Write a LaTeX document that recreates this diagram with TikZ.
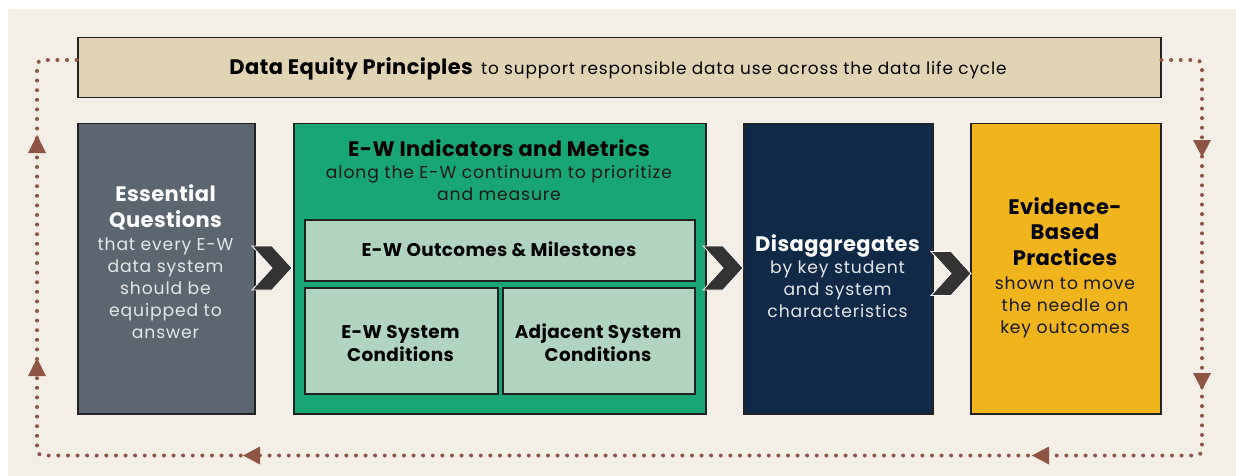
\documentclass[tikz,border=0pt]{standalone}
\usepackage{fontspec}
\setmainfont{Poppins}[LetterSpace=5, BoldFeatures={LetterSpace=2}]
\usetikzlibrary{calc}
\definecolor{cream}{HTML}{F3EFE6}
\definecolor{tan}{HTML}{E1D4B5}
\definecolor{dotc}{HTML}{8E5545}
\definecolor{slate}{HTML}{5C6670}
\definecolor{emer}{HTML}{18A674}
\definecolor{mint}{HTML}{B0D4BF}
\definecolor{navy}{HTML}{0F2947}
\definecolor{gold}{HTML}{F0B51D}
\definecolor{chevc}{HTML}{333333}
\definecolor{edge}{HTML}{222222}
\definecolor{lgray}{HTML}{E4E6E8}
\begin{document}
\begin{tikzpicture}[x=1pt,y=-1pt,
  box/.style={draw=edge, line width=1.5pt, inner sep=0pt, anchor=north west},
  tit/.style={font=\fontsize{21}{25.5}\selectfont\bfseries, align=center, inner sep=0pt, anchor=base},
  sub/.style={font=\fontsize{18.4}{23}\selectfont\bfseries, align=center, inner sep=0pt, anchor=base},
  bod/.style={font=\fontsize{17.2}{22}\selectfont, align=center, inner sep=0pt, anchor=base},
  dots/.style={draw=dotc, line width=4pt, line cap=round, dash pattern=on 0pt off 9.6pt},
  tri/.style={fill=dotc},
  chev/.pic={\filldraw[fill=chevc, draw=white, line width=0.8pt] (0,-22) -- (20,-22) -- (40,0) -- (20,22) -- (0,22) -- (20,0) -- cycle;}
]
\useasboundingbox (0,0) rectangle (1236,476);
\fill[white] (0,0) rectangle (1236,476);
\fill[cream] (8,9) rectangle (1236,476);

% dotted cycle
\node[box, fill=tan, minimum width=1083pt, minimum height=60pt] (dep) at (77,37) {};
\coordinate (dR) at ($(dep.north east)+(0,23)$);
\coordinate (dL) at ($(dep.north west)+(0,23)$);
\coordinate (cBR) at (1202,455.5);
\coordinate (cTL) at (37,60);
\draw[dots, rounded corners=6pt] (dR) -| (cBR) -| (cTL) -- (dL);
% arrowheads
\fill[tri] (1193,140) -- (1211,140) -- (1202,157) -- cycle;
\fill[tri] (1193,373) -- (1211,373) -- (1202,390) -- cycle;
\fill[tri] (28,153) -- (46,153) -- (37,135) -- cycle;
\fill[tri] (28,376) -- (46,376) -- (37,358) -- cycle;
\fill[tri] (260,446.5) -- (260,464.5) -- (243,455.5) -- cycle;
\fill[tri] (1049,446.5) -- (1049,464.5) -- (1032,455.5) -- cycle;

\node[anchor=base, inner sep=0pt] (dept) at (618,75)
  {{\fontsize{21}{25}\selectfont\bfseries Data Equity Principles}\hspace{5pt} {\fontsize{16.9}{20}\selectfont to support responsible data use across the data life cycle}};

% boxes
\node[box, fill=slate, minimum width=177pt, minimum height=290pt] (q) at (77,123) {};
\node[box, fill=emer, minimum width=412pt, minimum height=290pt] (ind) at (293,123) {};
\node[box, fill=mint, minimum width=390pt, minimum height=61pt] (out) at (304,219) {};
\node[box, fill=mint, minimum width=193pt, minimum height=106pt] (sys) at (304,287) {};
\node[box, fill=mint, minimum width=192pt, minimum height=106pt] (adj) at (502,287) {};
\node[box, fill=navy, minimum width=189pt, minimum height=290pt] (dis) at (743,123) {};
\node[box, fill=gold, minimum width=190pt, minimum height=290pt] (ebp) at (970,123) {};

% chevrons
\pic at (252,268) {chev};
\pic at (703,268) {chev};
\pic at (931,273.5) {chev};

% texts (base anchor = baseline of the last line)
\node[tit, text=white] (qt) at (165.5,227) {Essential\\Questions};
\node[bod, text=lgray] (qb) at (165.5,338) {that every E-W\\data system\\should be\\equipped to\\answer};

\node[tit, text=black] (it) at (499,156) {E-W Indicators and Metrics};
\node[bod, text=black!90] (ib) at (499,200) {along the E-W continuum to prioritize\\and measure};
\node[sub, text=black] (ot) at (499,256) {E-W Outcomes \& Milestones};
\node[sub, text=black] (st) at (400.5,361) {E-W System\\Conditions};
\node[sub, text=black] (at) at (598,361) {Adjacent System\\Conditions};

\node[tit, text=white] (dt) at (837.5,251) {Disaggregates};
\node[bod, text=lgray] (db) at (837.5,317) {by key student\\and system\\characteristics};

\node[tit, text=black] (et) at (1065,265) {Evidence-\\Based\\Practices};
\node[bod, text=black!90] (eb) at (1065,333) {shown to move\\the needle on\\key outcomes};
\end{tikzpicture}
\end{document}
